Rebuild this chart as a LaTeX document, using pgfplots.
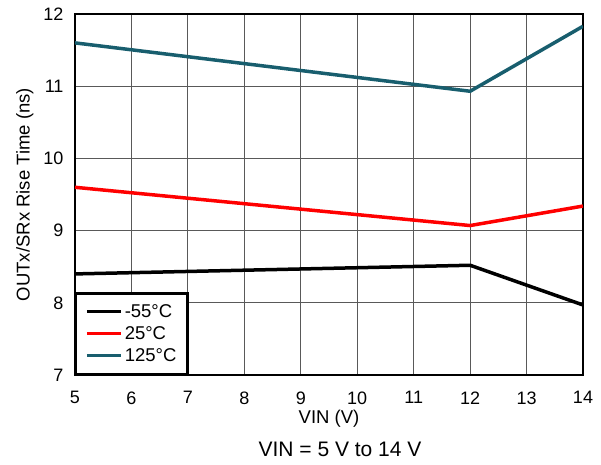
\documentclass[border=0pt]{standalone}
\usepackage{pgfplots}
\pgfplotsset{compat=1.18}
\usepackage{fontspec}
\setmainfont{Liberation Sans}
\definecolor{teal125}{RGB}{24,94,110}
\newcommand{\tickf}{\fontsize{18}{21}\selectfont}
\newcommand{\labf}{\fontsize{18.5}{21}\selectfont}
\newcommand{\capf}{\fontsize{21}{24}\selectfont}
\begin{document}
\begin{tikzpicture}
\begin{axis}[
  scale only axis,
  width=508pt, height=361pt,
  xmin=5, xmax=14, ymin=7, ymax=12,
  xtick={5,...,14}, ytick={7,...,12},
  /pgf/number format/assume math mode=true,
  tick label style={font=\tickf},
  xticklabel style={yshift=-13pt},
  yticklabel style={xshift=-8pt},
  label style={font=\labf},
  xlabel={VIN (V)}, ylabel={OUTx/SRx Rise Time (ns)},
  xlabel style={yshift=1pt},
  ylabel style={yshift=3pt},
  major tick length=0pt,
  grid=major,
  major grid style={black!65, line width=1pt},
  axis line style={line width=2.5pt},
  legend style={at={(0,0)}, anchor=south west, line width=2.5pt, draw=black,
    font=\labf, inner xsep=9pt, inner ysep=9pt,
    /tikz/every even column/.append style={column sep=8pt},
    row sep=3.5pt},
  legend cell align=left,
  legend image code/.code={\draw[line width=3.5pt,#1] (0cm,0cm) -- (34pt,0cm);},
]
\addplot[black, line width=3.5pt] coordinates {(5,8.40) (12,8.52) (14,7.97)};
\addlegendentry{-55°C}
\addplot[red, line width=3.5pt] coordinates {(5,9.60) (12,9.07) (14,9.34)};
\addlegendentry{25°C}
\addplot[teal125, line width=3.5pt] coordinates {(5,11.60) (12,10.93) (14,11.83)};
\addlegendentry{125°C}
\end{axis}
\node[font=\capf] at ([xshift=265pt,yshift=-74pt]current axis.south west) {VIN = 5 V to 14 V};
\path ([xshift=-75pt,yshift=-89pt]current axis.south west) rectangle ([xshift=18pt,yshift=14pt]current axis.north east);
\end{tikzpicture}
\end{document}
